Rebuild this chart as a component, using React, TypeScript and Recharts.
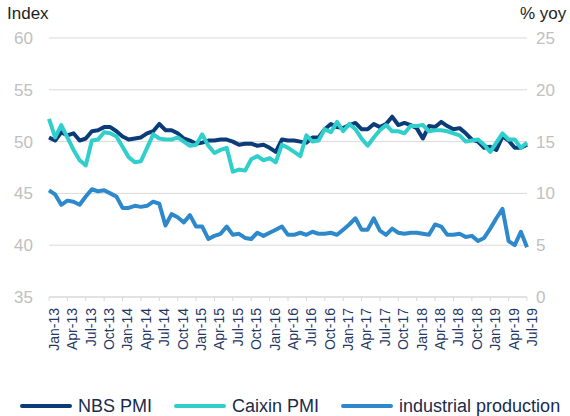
import React from 'react';
import { LineChart, Line, XAxis, YAxis, CartesianGrid, Legend } from 'recharts';

const years = ['13', '14', '15', '16', '17', '18', '19'];
const monthNames = ['Jan', 'Feb', 'Mar', 'Apr', 'May', 'Jun', 'Jul', 'Aug', 'Sep', 'Oct', 'Nov', 'Dec'];
const months: string[] = [];
years.forEach((y) => monthNames.forEach((m) => months.push(`${m}-${y}`)));
const categories = months.slice(0, 79);

const nbsPmi = [
  50.4, 50.1, 50.9, 50.6, 50.8, 50.1, 50.3, 51.0, 51.1, 51.4, 51.4, 51.0,
  50.5, 50.2, 50.3, 50.4, 50.8, 51.0, 51.7, 51.1, 51.1, 50.8, 50.3, 50.1,
  49.8, 49.9, 50.1, 50.1, 50.2, 50.2, 50.0, 49.7, 49.8, 49.8, 49.6, 49.7,
  49.4, 49.0, 50.2, 50.1, 50.1, 50.0, 49.9, 50.4, 50.4, 51.2, 51.7, 51.4,
  51.3, 51.6, 51.8, 51.2, 51.2, 51.7, 51.4, 51.7, 52.4, 51.6, 51.8, 51.6,
  51.3, 50.3, 51.5, 51.4, 51.9, 51.5, 51.2, 51.3, 50.8, 50.2, 50.0, 49.4,
  49.5, 49.2, 50.5, 50.1, 49.4, 49.4, 49.7,
];

const caixinPmi = [
  52.2, 50.4, 51.6, 50.4, 49.2, 48.2, 47.7, 50.1, 50.2, 50.9, 50.8, 50.5,
  49.5, 48.5, 48.0, 48.1, 49.4, 50.7, 50.3, 50.2, 50.2, 50.4, 50.0, 49.6,
  49.7, 50.7, 49.6, 48.9, 49.2, 49.4, 47.1, 47.3, 47.2, 48.3, 48.6, 48.2,
  48.4, 48.0, 49.7, 49.4, 49.0, 48.6, 50.6, 50.0, 50.1, 51.2, 50.9, 51.9,
  51.0, 51.7, 51.2, 50.3, 49.6, 50.4, 51.1, 51.6, 51.0, 51.0, 50.8, 51.5,
  51.5, 51.6, 51.0, 51.1, 51.1, 51.0, 50.8, 50.6, 50.0, 50.1, 50.2, 49.7,
  49.0, 49.9, 50.8, 50.2, 50.2, 49.4, 49.9,
];

const industrialProduction = [
  10.3, 9.9, 8.9, 9.3, 9.2, 8.9, 9.7, 10.4, 10.2, 10.3, 10.0, 9.7,
  8.6, 8.6, 8.8, 8.7, 8.8, 9.2, 9.0, 6.9, 8.0, 7.7, 7.2, 7.9,
  6.8, 6.8, 5.6, 5.9, 6.1, 6.8, 6.0, 6.1, 5.7, 5.6, 6.2, 5.9,
  6.2, 6.5, 6.8, 6.0, 6.0, 6.2, 6.0, 6.3, 6.1, 6.1, 6.2, 6.0,
  6.5, 7.0, 7.6, 6.5, 6.5, 7.6, 6.4, 6.0, 6.6, 6.2, 6.1, 6.2,
  6.2, 6.1, 6.0, 7.0, 6.8, 6.0, 6.0, 6.1, 5.8, 5.9, 5.4, 5.7,
  6.6, 7.6, 8.5, 5.4, 5.0, 6.3, 4.8,
];

const leftTicks = [35, 40, 45, 50, 55, 60];
const rightTicks = [0, 5, 10, 15, 20, 25];

const seriesNames = ['NBS PMI', 'Caixin PMI', 'industrial production'];
const seriesColors = ['#0b3c78', '#30cfcc', '#2e88cc'];

const data = categories.map((m, i) => ({
  month: m,
  nbs: nbsPmi[i],
  caixin: caixinPmi[i],
  ip: industrialProduction[i],
}));

const FONT = '"Liberation Sans", Arial, Helvetica, sans-serif';

const renderLegend = () => {
  return (
    <div
      style={{
        display: 'flex',
        alignItems: 'center',
        height: 20,
        paddingLeft: 20,
        fontFamily: FONT,
        fontSize: 18,
        color: '#1a2b4c',
        whiteSpace: 'nowrap',
      }}
    >
      {seriesNames.map((name, i) => (
        <div key={name} style={{ display: 'flex', alignItems: 'center', marginRight: 22 }}>
          <span
            style={{
              display: 'inline-block',
              width: 52,
              height: 4,
              borderRadius: 2,
              background: seriesColors[i],
              marginRight: 6,
            }}
          />
          <span>{name}</span>
        </div>
      ))}
    </div>
  );
};

export default function App() {
  return (
    <div style={{ position: 'absolute', left: 0, top: 0, width: 570, height: 416, background: '#fff' }}>
      <div
        style={{
          position: 'absolute',
          left: 7,
          top: 5,
          fontFamily: FONT,
          fontSize: 17,
          lineHeight: 1,
          color: '#1e1e1e',
          zIndex: 2,
        }}
      >
        Index
      </div>
      <div
        style={{
          position: 'absolute',
          left: 520,
          top: 5,
          fontFamily: FONT,
          fontSize: 17,
          lineHeight: 1,
          color: '#1e1e1e',
          zIndex: 2,
          whiteSpace: 'nowrap',
        }}
      >
        % yoy
      </div>
      <LineChart width={570} height={416} data={data} margin={{ top: 38, right: 0, bottom: 0, left: 0 }}>
        <CartesianGrid yAxisId="left" vertical={false} stroke="#d9d9d9" strokeWidth={1} />
        <XAxis
          dataKey="month"
          interval={2}
          angle={-90}
          textAnchor="end"
          height={99}
          tickSize={4}
          tickMargin={7}
          axisLine={{ stroke: '#d9d9d9' }}
          tickLine={{ stroke: '#d9d9d9' }}
          tick={{ fontSize: 14, fill: '#1f3864', fontFamily: FONT }}
        />
        <YAxis
          yAxisId="left"
          orientation="left"
          domain={[35, 60]}
          ticks={leftTicks}
          width={49}
          axisLine={false}
          tickLine={false}
          tickSize={0}
          tickMargin={16}
          tick={{ fontSize: 17, fill: '#c0c0c0', fontFamily: FONT }}
        />
        <YAxis
          yAxisId="right"
          orientation="right"
          domain={[0, 25]}
          ticks={rightTicks}
          width={43}
          axisLine={false}
          tickLine={false}
          tickSize={0}
          tickMargin={9}
          tick={{ fontSize: 17, fill: '#c0c0c0', fontFamily: FONT }}
        />
        <Legend verticalAlign="bottom" align="left" content={renderLegend} />
        <Line
          yAxisId="left"
          type="linear"
          dataKey="nbs"
          name={seriesNames[0]}
          stroke={seriesColors[0]}
          strokeWidth={4}
          strokeLinejoin="round"
          dot={false}
          activeDot={false}
          isAnimationActive={false}
        />
        <Line
          yAxisId="left"
          type="linear"
          dataKey="caixin"
          name={seriesNames[1]}
          stroke={seriesColors[1]}
          strokeWidth={4}
          strokeLinejoin="round"
          dot={false}
          activeDot={false}
          isAnimationActive={false}
        />
        <Line
          yAxisId="right"
          type="linear"
          dataKey="ip"
          name={seriesNames[2]}
          stroke={seriesColors[2]}
          strokeWidth={4}
          strokeLinejoin="round"
          dot={false}
          activeDot={false}
          isAnimationActive={false}
        />
      </LineChart>
    </div>
  );
}
